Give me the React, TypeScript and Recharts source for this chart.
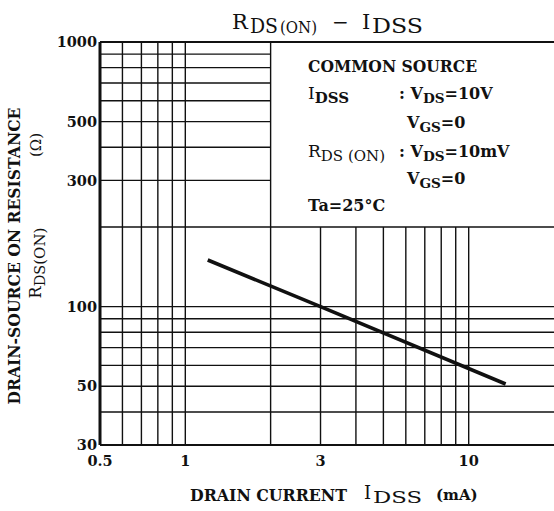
import { LineChart, Line, XAxis, YAxis, ReferenceLine } from 'recharts'

// RDS(ON) vs IDSS
const current = [1.2, 3, 13.5]
const resistance = [150, 100, 51]

const xTicks = [0.5, 1, 3, 10]
const yTicks = [30, 50, 100, 300, 500, 1000]

// log grid: full-height verticals up to 2 mA, short ones (below 200 Ω) to the right of it
const xGridFull = [0.6, 0.7, 0.8, 0.9, 1, 2]
const xGridLow = [3, 4, 5, 6, 7, 8, 9, 10]
// horizontals: the upper ones stop at 2 mA, where the condition box starts
const yGridLeft = [300, 400, 500, 600, 700, 800, 900]
const yGridFull = [40, 50, 60, 70, 80, 90, 100, 200]

const X_MIN = 0.5
const X_MAX = 20
const X_SPLIT = 2
const Y_MIN = 30
const Y_MAX = 1000
const Y_SPLIT = 200

const data = current.map((i, k) => ({ i, r: resistance[k] }))

const serif = "'DejaVu Serif', serif"
const ink = '#111'
const tickStyle = { fill: ink, fontSize: 14.5, fontWeight: 700, fontFamily: serif }

function Sub({ children }: { children: string }) {
  return <tspan dy={4} fontSize="0.85em">{children}</tspan>
}

export default function App() {
  return (
    <div style={{ position: 'absolute', left: 0, top: 0, width: 554, height: 511, overflow: 'hidden', background: '#fff' }}>
      <LineChart
        width={554}
        height={511}
        data={data}
        margin={{ top: 42, right: 0, bottom: 36, left: 0 }}
      >
        <XAxis
          dataKey="i"
          type="number"
          scale="log"
          domain={[X_MIN, X_MAX]}
          ticks={xTicks}
          allowDataOverflow
          axisLine={false}
          tickLine={false}
          tickSize={0}
          tickMargin={11}
          height={30}
          tick={tickStyle}
        />
        <YAxis
          type="number"
          scale="log"
          domain={[Y_MIN, Y_MAX]}
          ticks={yTicks}
          allowDataOverflow
          axisLine={false}
          tickLine={false}
          tickSize={0}
          tickMargin={3}
          width={100}
          tick={tickStyle}
        />
        {xGridFull.map((x) => (
          <ReferenceLine key={'vf' + x} segment={[{ x, y: Y_MIN }, { x, y: Y_MAX }]} stroke={ink} strokeWidth={1.4} />
        ))}
        {xGridLow.map((x) => (
          <ReferenceLine key={'vl' + x} segment={[{ x, y: Y_MIN }, { x, y: Y_SPLIT }]} stroke={ink} strokeWidth={1.4} />
        ))}
        {yGridLeft.map((y) => (
          <ReferenceLine key={'hl' + y} segment={[{ x: X_MIN, y }, { x: X_SPLIT, y }]} stroke={ink} strokeWidth={1.4} />
        ))}
        {yGridFull.map((y) => (
          <ReferenceLine key={'hf' + y} segment={[{ x: X_MIN, y }, { x: X_MAX, y }]} stroke={ink} strokeWidth={1.4} />
        ))}
        <ReferenceLine segment={[{ x: X_MIN, y: Y_MAX }, { x: X_MAX, y: Y_MAX }]} stroke={ink} strokeWidth={2} />
        <ReferenceLine segment={[{ x: X_MIN, y: Y_MIN }, { x: X_MAX, y: Y_MIN }]} stroke={ink} strokeWidth={2} />
        <ReferenceLine segment={[{ x: X_MIN, y: Y_MIN }, { x: X_MIN, y: Y_MAX }]} stroke={ink} strokeWidth={3} />
        <Line
          dataKey="r"
          type="linear"
          stroke={ink}
          strokeWidth={3.6}
          dot={false}
          isAnimationActive={false}
        />
      </LineChart>

      <svg
        width={554}
        height={511}
        style={{ position: 'absolute', left: 0, top: 0, pointerEvents: 'none' }}
        fontFamily={serif}
        fill={ink}
      >
        {/* title */}
        <g fontSize={20}>
          <text x={232} y={29} fontSize={21}>R</text>
          <text x={250} y={33} textLength={28} lengthAdjust="spacingAndGlyphs">DS</text>
          <text x={280} y={33} fontSize={17} textLength={37} lengthAdjust="spacingAndGlyphs">(ON)</text>
          <text x={332} y={29}>−</text>
          <text x={362} y={29} fontSize={21}>I</text>
          <text x={372} y={33} textLength={51} lengthAdjust="spacingAndGlyphs">DSS</text>
        </g>

        {/* measurement conditions */}
        <g fontSize={16} fontWeight={700}>
          <text x={308} y={72} textLength={169} lengthAdjust="spacingAndGlyphs">COMMON SOURCE</text>
          <text x={308} y={99}>
            <tspan fontWeight={400} fontSize={17}>I</tspan>
            <tspan dy={4} fontSize={15}>DSS</tspan>
          </text>
          <text x={399} y={99}>
            : V<Sub>DS</Sub>
            <tspan dy={-4}>=10V</tspan>
          </text>
          <text x={407} y={128}>
            V<Sub>GS</Sub>
            <tspan dy={-4}>=0</tspan>
          </text>
          <text x={308} y={157}>
            <tspan fontWeight={400} fontSize={17}>R</tspan>
            <tspan dy={4} fontSize={15} fontWeight={400}>DS (ON)</tspan>
          </text>
          <text x={399} y={157}>
            : V<Sub>DS</Sub>
            <tspan dy={-4}>=10mV</tspan>
          </text>
          <text x={407} y={184}>
            V<Sub>GS</Sub>
            <tspan dy={-4}>=0</tspan>
          </text>
          <text x={308} y={211}>Ta=25°C</text>
        </g>

        {/* y axis title */}
        <text
          transform="translate(20 256) rotate(-90)"
          textAnchor="middle"
          fontSize={16}
          fontWeight={700}
          textLength={297}
          lengthAdjust="spacingAndGlyphs"
        >
          DRAIN-SOURCE ON RESISTANCE
        </text>
        <text transform="translate(41 263) rotate(-90)" textAnchor="middle" fontSize={16}>
          R<tspan dy={4} fontSize={14.5}>DS</tspan>
          <tspan fontSize={15}>(ON)</tspan>
        </text>
        <text transform="translate(41 145) rotate(-90)" textAnchor="middle" fontSize={15}>
          (Ω)
        </text>

        {/* x axis title */}
        <text x={190} y={501} fontSize={16} fontWeight={700} textLength={157} lengthAdjust="spacingAndGlyphs">
          DRAIN CURRENT
        </text>
        <text x={364} y={499} fontSize={18}>I</text>
        <text x={373} y={503} fontSize={17} textLength={49} lengthAdjust="spacingAndGlyphs">DSS</text>
        <text x={436} y={500} fontSize={15} fontWeight={700}>(mA)</text>
      </svg>
    </div>
  )
}
